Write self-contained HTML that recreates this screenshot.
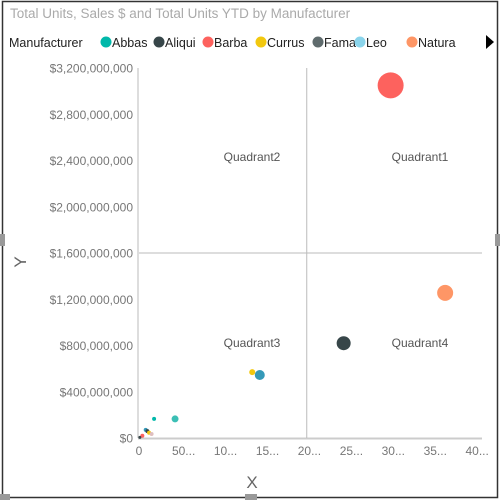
<!DOCTYPE html>
<html><head><meta charset="utf-8"><style>
body{margin:0;width:500px;height:500px;background:#fff;overflow:hidden;font-family:"Liberation Sans",sans-serif}
</style></head><body>
<svg width="500" height="500" id="chart" style="position:absolute;left:0;top:0">
<rect x="2.5" y="1.5" width="495" height="496" fill="none" stroke="#333" stroke-width="1.5"/>
<rect x="0" y="234" width="5" height="12" fill="#999"/>
<rect x="495" y="234" width="5" height="12" fill="#999"/>
<rect x="0" y="494" width="10" height="6" fill="#999"/>
<rect x="245" y="494" width="12" height="6" fill="#999"/>
<text x="10" y="18" font-size="13.5" fill="#aaa">Total Units, Sales $ and Total Units YTD by Manufacturer</text>
<g id="legend">
<text x="9" y="47" font-size="12.5" fill="#222">Manufacturer</text>
</g>
<polygon points="486,35 494,42 486,49" fill="#000"/>
<g id="axes"></g>
<g id="marks"></g>
<text x="252" y="488" font-size="17" fill="#666" text-anchor="middle">X</text>
<text x="26" y="262" font-size="17" fill="#666" text-anchor="middle" transform="rotate(-90 26 262)">Y</text>
</svg>
<script>
const legendNames=["Abbas","Aliqui","Barba","Currus","Fama","Leo","Natura"];
const legendColors=["#01b8aa","#374649","#fd625e","#f2c80f","#5f6b6d","#8ad4eb","#fe9666"];
const yTicks=[0,400000000,800000000,1200000000,1600000000,2000000000,2400000000,2800000000,3200000000];
const yTickLabels=["$0","$400,000,000","$800,000,000","$1,200,000,000","$1,600,000,000","$2,000,000,000","$2,400,000,000","$2,800,000,000","$3,200,000,000"];
const xTicks=[0,50,100,150,200,250,300,350,400];
const xTickLabels=["0","50...","10...","15...","20...","25...","30...","35...","40..."];
const ptX=[300,365,244,144,135,43,18,8,10,12,15,4,1];
const ptY=[3050000000,1255000000,820000000,545000000,570000000,165000000,165000000,70000000,60000000,45000000,35000000,20000000,5000000];
const ptR=[13,8,7,5,3,3.5,2,2,2,2,2,2,1.5];
const ptColor=["#fd625e","#fe9666","#374649","#3599b8","#f2c80f","#3bbfb5","#01b8aa","#3599b8","#374649","#f2c80f","#dfbfbf","#fd625e","#374649"];
const quadX=200, quadY=1600000000;
const X0=139,X1=474.5,Y0=438,Y1=68;
const sx=v=>X0+(v-0)/400*(X1-X0);
const sy=v=>Y0-v/3200000000*(Y0-Y1);
const NS="http://www.w3.org/2000/svg";
function mk(t,a,p){const e=document.createElementNS(NS,t);for(const k in a)e.setAttribute(k,a[k]);p.appendChild(e);return e;}
const lg=document.getElementById('legend');
let lx=106;
const lw=[53,49,53,57,42,52,50];
legendNames.forEach((n,i)=>{
 const c=mk('circle',{cx:lx,cy:42,r:5.5,fill:legendColors[i]},lg);
 
 
 const t=mk('text',{x:lx+6,y:47,'font-size':12.5,fill:'#222'},lg);t.textContent=n;
 
 
 lx+=lw[i];
});
const ax=document.getElementById('axes');
const ya=mk('line',{x1:X0-1,y1:Y1,x2:X0-1,y2:Y0,stroke:'#bbb'},ax);


const xa=mk('line',{x1:X0-1,y1:Y0+0.5,x2:482,y2:Y0+0.5,stroke:'#ccc','stroke-width':2},ax);


yTicks.forEach((v,i)=>{const t=mk('text',{x:133,y:sy(v)+4.5,'font-size':12,fill:'#777','text-anchor':'end'},ax);t.textContent=yTickLabels[i];
 
 });
xTicks.forEach((v,i)=>{const t=mk('text',{x:i==0?sx(v):sx(v)-9,y:455,'font-size':12,fill:'#777','text-anchor':i==0?'middle':'start'},ax);t.textContent=xTickLabels[i];
 
 });
const qv=mk('line',{x1:sx(quadX),y1:Y1,x2:sx(quadX),y2:Y0,stroke:'#bbb'},ax);


const qh=mk('line',{x1:X0,y1:sy(quadY),x2:482,y2:sy(quadY),stroke:'#bbb'},ax);


[["Quadrant2",252,161],["Quadrant1",420,161],["Quadrant3",252,347],["Quadrant4",420,347]].forEach(q=>{
 const t=mk('text',{x:q[1],y:q[2],'font-size':12,fill:'#555','text-anchor':'middle'},ax);t.textContent=q[0];
 
 
});
const mg=document.getElementById('marks');
ptX.forEach((v,i)=>{const c=mk('circle',{cx:sx(v),cy:sy(ptY[i]),r:ptR[i],fill:ptColor[i]},mg);
 
 });
</script>
</body></html>
